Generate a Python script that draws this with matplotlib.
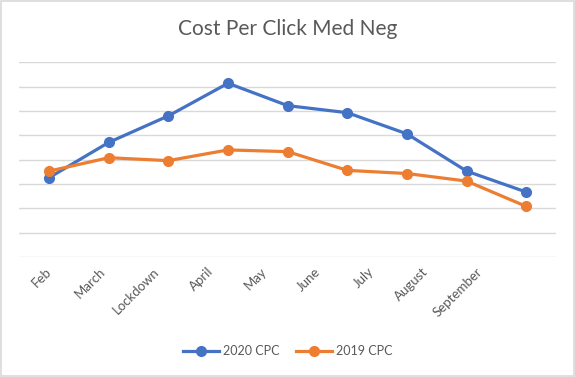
import matplotlib.pyplot as plt
from matplotlib.patches import Rectangle
from matplotlib.transforms import ScaledTranslation

# data (grid step = 1 unit)
months = ["Feb", "March", "Lockdown", "April", "May", "June", "July", "August", "September"]
cpc_2020 = [3.26, 4.71, 5.80, 7.14, 6.22, 5.93, 5.06, 3.53, 2.67]
cpc_2019 = [3.53, 4.08, 3.96, 4.40, 4.33, 3.56, 3.43, 3.12, 2.08]

blue = "#4472C4"
orange = "#ED7D31"
text_grey = "#595959"

plt.rcParams['font.family'] = ['Lato', 'DejaVu Sans']

fig = plt.figure(figsize=(5.75, 3.77), dpi=100)
ax = fig.add_axes([0.0336, 0.3183, 0.9334, 0.5164])

x = range(len(months))
ax.plot(x, cpc_2020, color=blue, lw=2.3, marker="o", ms=7, label="2020 CPC", zorder=3)
ax.plot(x, cpc_2019, color=orange, lw=2.3, marker="o", ms=7, label="2019 CPC", zorder=3)

ax.set_xlim(-0.5, len(months) - 0.5)
ax.set_ylim(0, 8)
ax.set_yticks(range(0, 9))
ax.yaxis.grid(True, color="#D9D9D9", lw=1)
ax.set_axisbelow(True)
ax.tick_params(axis="y", left=False, labelleft=False)
ax.tick_params(axis="x", length=0, pad=6, colors=text_grey, labelsize=9.5)
ax.set_xticks(list(x))
ax.set_xticklabels(months, rotation=45, ha="right", rotation_mode="anchor")
for s in ax.spines.values():
    s.set_visible(False)

# Excel packs the rotated labels a little tighter than the category spacing
for i, lab in enumerate(ax.get_xticklabels()):
    dx = -(4 + 5.8 * i) / 100
    lab.set_transform(lab.get_transform() + ScaledTranslation(dx, 0, fig.dpi_scale_trans))

fig.text(0.5, 1 - 29 / 377, "Cost Per Click Med Neg", ha="center", va="center",
         fontsize=15, color=text_grey)

fig.legend(loc="center", bbox_to_anchor=(0.5, 1 - 351 / 377), ncol=2, frameon=False,
           fontsize=9, labelcolor=text_grey, handlelength=2.9, handletextpad=0.3,
           columnspacing=1.3)

# light border around the chart area
fig.patches.append(Rectangle((0.002, 0.003), 0.996, 0.994, transform=fig.transFigure,
                             fill=False, edgecolor="#D9D9D9", lw=1.2))

fig.savefig("out.png", dpi=100)
